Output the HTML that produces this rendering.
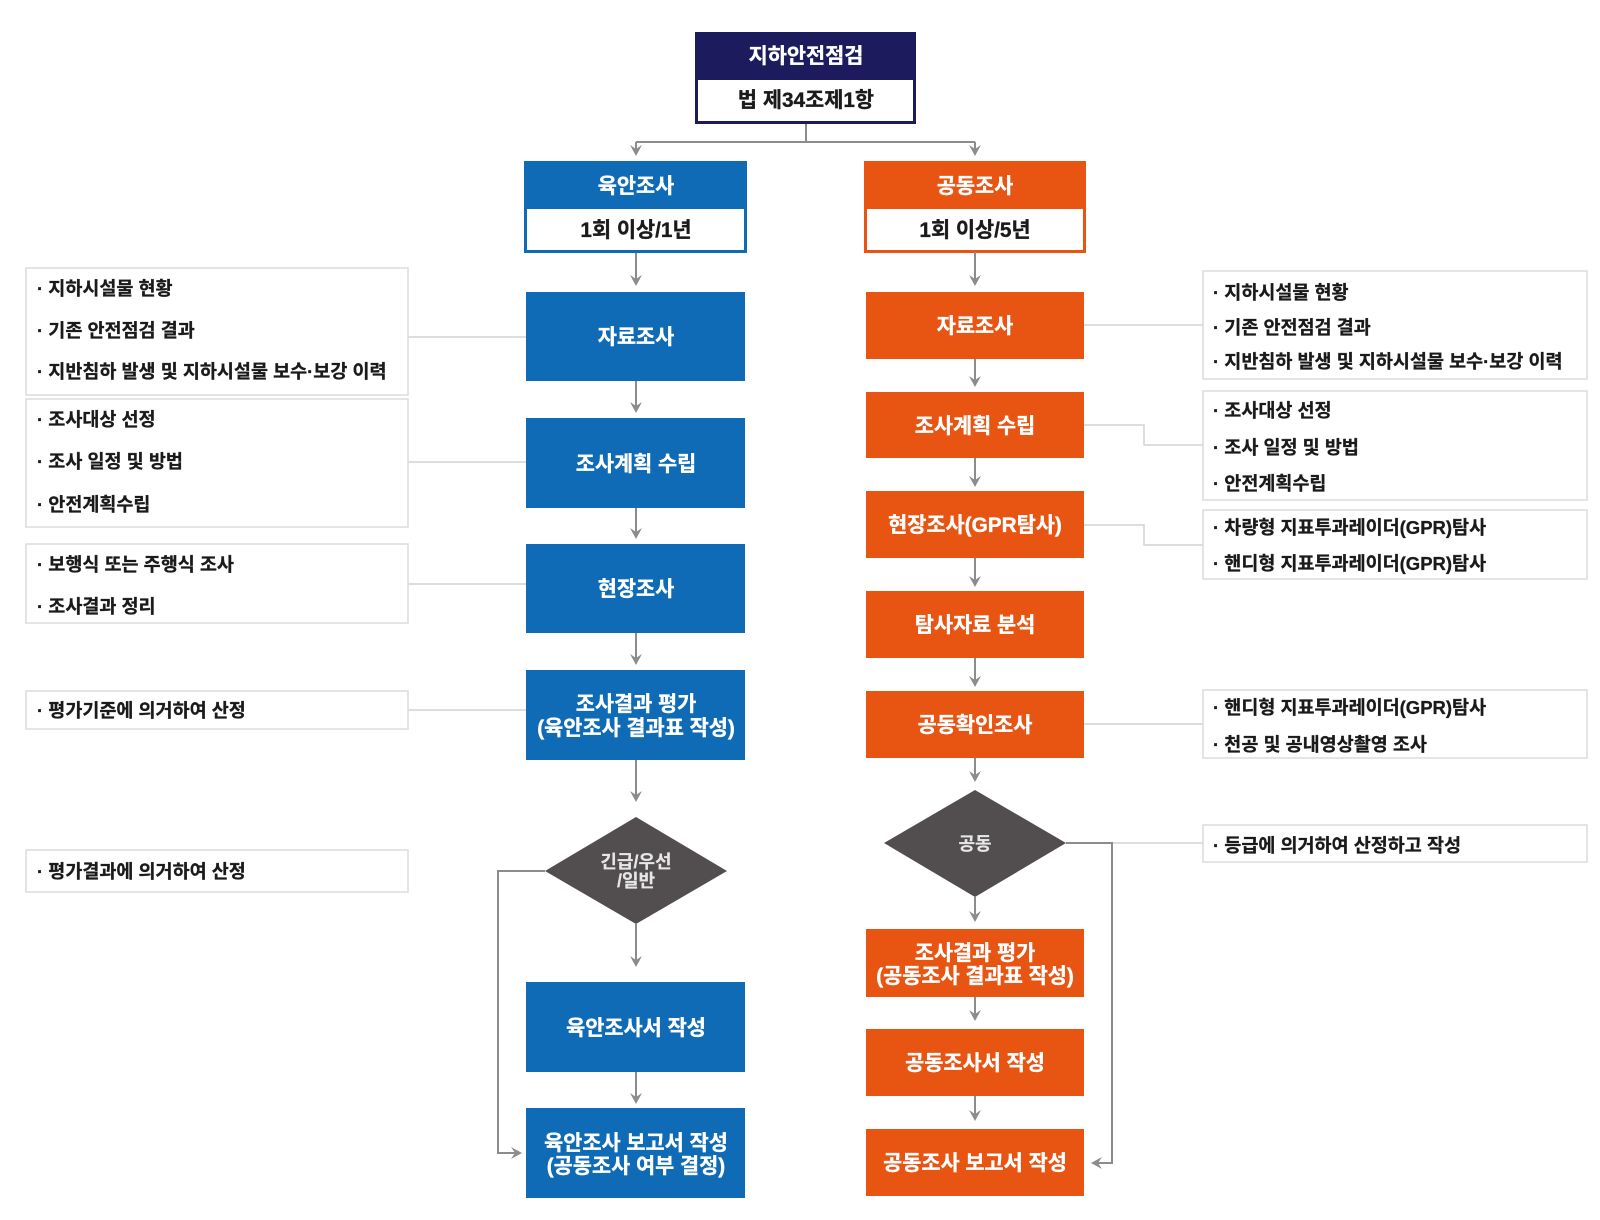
<!DOCTYPE html>
<html>
<head>
<meta charset="utf-8">
<style>
html,body{margin:0;padding:0;background:#fff;}
svg{display:block;}
text{font-family:"Liberation Sans","Noto Sans CJK KR",sans-serif;font-weight:bold;}
.w{fill:#fff;font-size:20.8px;stroke:#fff;stroke-width:0.35;}
.k{fill:#1a1a1a;font-size:20.8px;stroke:#1a1a1a;stroke-width:0.35;}
.n{fill:#1a1a1a;font-size:18.5px;stroke:#1a1a1a;stroke-width:0.3;}
.d{fill:#e6e6e6;font-size:18px;stroke:#e6e6e6;stroke-width:0.2;}
.ln{stroke:#8c8c8c;stroke-width:2;fill:none;}
.cn{stroke:#d2d2d2;stroke-width:1.5;fill:none;}
.ah{fill:#8c8c8c;}
.nb{fill:#fff;stroke:#dcdcdc;stroke-width:1.5;}
.bl{fill:#0f6bb6;}
.or{fill:#e85412;}
</style>
</head>
<body>
<svg width="1600" height="1220" viewBox="0 0 1600 1220" xmlns="http://www.w3.org/2000/svg">
  <!-- Top box -->
  <rect x="695" y="32" width="221" height="92" fill="#1b1b5e"/>
  <rect x="698" y="80" width="215" height="41" fill="#fff"/>
  <text class="w" x="806" y="63" text-anchor="middle">지하안전점검</text>
  <text class="k" x="806" y="107" text-anchor="middle">법 제34조제1항</text>

  <!-- top connectors -->
  <path class="ln" d="M806 124 V142 M636 142 H975 M636 142 V150 M975 142 V150"/>
  <path class="ah" d="M630 145 L636 156 L642 145 L636 149 Z"/>
  <path class="ah" d="M969 145 L975 156 L981 145 L975 149 Z"/>

  <!-- Blue header -->
  <rect x="524" y="161" width="223" height="92" class="bl"/>
  <rect x="527" y="209" width="217" height="41" fill="#fff"/>
  <text class="w" x="636" y="193" text-anchor="middle">육안조사</text>
  <text class="k" x="636" y="237" text-anchor="middle">1회 이상/1년</text>

  <!-- Orange header -->
  <rect x="864" y="161" width="222" height="92" class="or"/>
  <rect x="867" y="209" width="216" height="41" fill="#fff"/>
  <text class="w" x="975" y="193" text-anchor="middle">공동조사</text>
  <text class="k" x="975" y="237" text-anchor="middle">1회 이상/5년</text>

  <!-- Blue column boxes -->
  <rect x="526" y="292" width="219" height="89" class="bl"/>
  <text class="w" x="636" y="344" text-anchor="middle">자료조사</text>
  <rect x="526" y="418" width="219" height="90" class="bl"/>
  <text class="w" x="636" y="471" text-anchor="middle">조사계획 수립</text>
  <rect x="526" y="544" width="219" height="89" class="bl"/>
  <text class="w" x="636" y="596" text-anchor="middle">현장조사</text>
  <rect x="526" y="670" width="219" height="90" class="bl"/>
  <text class="w" x="636" y="711" text-anchor="middle">조사결과 평가</text>
  <text class="w" x="636" y="735" text-anchor="middle">(육안조사 결과표 작성)</text>
  <polygon points="636,817 727,871 636,924 545,871" fill="#524e4f"/>
  <text class="d" x="636" y="868" text-anchor="middle">긴급/우선</text>
  <text class="d" x="636" y="887" text-anchor="middle">/일반</text>
  <rect x="526" y="982" width="219" height="90" class="bl"/>
  <text class="w" x="636" y="1035" text-anchor="middle">육안조사서 작성</text>
  <rect x="526" y="1108" width="219" height="90" class="bl"/>
  <text class="w" x="636" y="1150" text-anchor="middle">육안조사 보고서 작성</text>
  <text class="w" x="636" y="1173" text-anchor="middle">(공동조사 여부 결정)</text>

  <!-- Blue arrows -->
  <g>
    <path class="ln" d="M636 253 V280 M636 381 V407 M636 508 V533 M636 633 V659 M636 760 V796 M636 924 V961 M636 1072 V1098"/>
    <path class="ah" d="M630 275 L636 286 L642 275 L636 279 Z"/>
    <path class="ah" d="M630 402 L636 413 L642 402 L636 406 Z"/>
    <path class="ah" d="M630 528 L636 539 L642 528 L636 532 Z"/>
    <path class="ah" d="M630 654 L636 665 L642 654 L636 658 Z"/>
    <path class="ah" d="M630 791 L636 802 L642 791 L636 795 Z"/>
    <path class="ah" d="M630 956 L636 967 L642 956 L636 960 Z"/>
    <path class="ah" d="M630 1093 L636 1104 L642 1093 L636 1097 Z"/>
  </g>
  <!-- Left loop -->
  <path class="ln" d="M545 871 H498 V1153 H516"/>
  <path class="ah" d="M511 1147 L522 1153 L511 1159 L515 1153 Z"/>

  <!-- Orange column boxes -->
  <rect x="866" y="292" width="218" height="67" class="or"/>
  <text class="w" x="975" y="333" text-anchor="middle">자료조사</text>
  <rect x="866" y="392" width="218" height="66" class="or"/>
  <text class="w" x="975" y="433" text-anchor="middle">조사계획 수립</text>
  <rect x="866" y="491" width="218" height="67" class="or"/>
  <text class="w" x="975" y="532" text-anchor="middle">현장조사(GPR탐사)</text>
  <rect x="866" y="591" width="218" height="67" class="or"/>
  <text class="w" x="975" y="632" text-anchor="middle">탐사자료 분석</text>
  <rect x="866" y="691" width="218" height="67" class="or"/>
  <text class="w" x="975" y="732" text-anchor="middle">공동확인조사</text>
  <polygon points="975,790 1066,843 975,897 884,843" fill="#524e4f"/>
  <text class="d" x="975" y="850" text-anchor="middle">공동</text>
  <rect x="866" y="929" width="218" height="68" class="or"/>
  <text class="w" x="975" y="960" text-anchor="middle">조사결과 평가</text>
  <text class="w" x="975" y="983" text-anchor="middle">(공동조사 결과표 작성)</text>
  <rect x="866" y="1029" width="218" height="67" class="or"/>
  <text class="w" x="975" y="1070" text-anchor="middle">공동조사서 작성</text>
  <rect x="866" y="1129" width="218" height="67" class="or"/>
  <text class="w" x="975" y="1170" text-anchor="middle">공동조사 보고서 작성</text>

  <!-- Orange arrows -->
  <g>
    <path class="ln" d="M975 252 V280 M975 359 V381 M975 458 V481 M975 558 V581 M975 658 V681 M975 758 V776 M975 897 V916 M975 997 V1015 M975 1096 V1115"/>
    <path class="ah" d="M969 275 L975 286 L981 275 L975 279 Z"/>
    <path class="ah" d="M969 376 L975 387 L981 376 L975 380 Z"/>
    <path class="ah" d="M969 476 L975 487 L981 476 L975 480 Z"/>
    <path class="ah" d="M969 576 L975 587 L981 576 L975 580 Z"/>
    <path class="ah" d="M969 676 L975 687 L981 676 L975 680 Z"/>
    <path class="ah" d="M969 771 L975 782 L981 771 L975 775 Z"/>
    <path class="ah" d="M969 911 L975 922 L981 911 L975 915 Z"/>
    <path class="ah" d="M969 1010 L975 1021 L981 1010 L975 1014 Z"/>
    <path class="ah" d="M969 1110 L975 1121 L981 1110 L975 1114 Z"/>
  </g>
  <!-- Right loop -->
  <path class="cn" d="M1112 843 H1203"/>
  <path class="ln" d="M1066 843 H1112 V1163 H1097"/>
  <path class="ah" d="M1102 1157 L1091 1163 L1102 1169 L1098 1163 Z"/>

  <!-- Left note connectors -->
  <path class="cn" d="M408 337 H526 M408 462 H526 M408 584 H526 M408 710 H526"/>
  <!-- Right note connectors -->
  <path class="cn" d="M1084 325 H1203 M1084 425 H1144 V445 H1203 M1084 525 H1144 V545 H1203 M1084 724 H1203"/>

  <!-- Left notes -->
  <rect class="nb" x="26" y="268" width="382" height="127"/>
  <text class="n" x="37" y="295">· 지하시설물 현황</text>
  <text class="n" x="37" y="337">· 기존 안전점검 결과</text>
  <text class="n" x="37" y="378">· 지반침하 발생 및 지하시설물 보수·보강 이력</text>

  <rect class="nb" x="26" y="399" width="382" height="128"/>
  <text class="n" x="37" y="426">· 조사대상 선정</text>
  <text class="n" x="37" y="468">· 조사 일정 및 방법</text>
  <text class="n" x="37" y="511">· 안전계획수립</text>

  <rect class="nb" x="26" y="544" width="382" height="79"/>
  <text class="n" x="37" y="571">· 보행식 또는 주행식 조사</text>
  <text class="n" x="37" y="613">· 조사결과 정리</text>

  <rect class="nb" x="26" y="691" width="382" height="38"/>
  <text class="n" x="37" y="717">· 평가기준에 의거하여 산정</text>

  <rect class="nb" x="26" y="850" width="382" height="42"/>
  <text class="n" x="37" y="878">· 평가결과에 의거하여 산정</text>

  <!-- Right notes -->
  <rect class="nb" x="1203" y="271" width="384" height="108"/>
  <text class="n" x="1213" y="299">· 지하시설물 현황</text>
  <text class="n" x="1213" y="334">· 기존 안전점검 결과</text>
  <text class="n" x="1213" y="368">· 지반침하 발생 및 지하시설물 보수·보강 이력</text>

  <rect class="nb" x="1203" y="391" width="384" height="109"/>
  <text class="n" x="1213" y="417">· 조사대상 선정</text>
  <text class="n" x="1213" y="454">· 조사 일정 및 방법</text>
  <text class="n" x="1213" y="490">· 안전계획수립</text>

  <rect class="nb" x="1203" y="510" width="384" height="69"/>
  <text class="n" x="1213" y="534">· 차량형 지표투과레이더(GPR)탐사</text>
  <text class="n" x="1213" y="570">· 핸디형 지표투과레이더(GPR)탐사</text>

  <rect class="nb" x="1203" y="690" width="384" height="68"/>
  <text class="n" x="1213" y="714">· 핸디형 지표투과레이더(GPR)탐사</text>
  <text class="n" x="1213" y="751">· 천공 및 공내영상촬영 조사</text>

  <rect class="nb" x="1203" y="825" width="384" height="37"/>
  <text class="n" x="1213" y="852">· 등급에 의거하여 산정하고 작성</text>
</svg>
</body>
</html>
